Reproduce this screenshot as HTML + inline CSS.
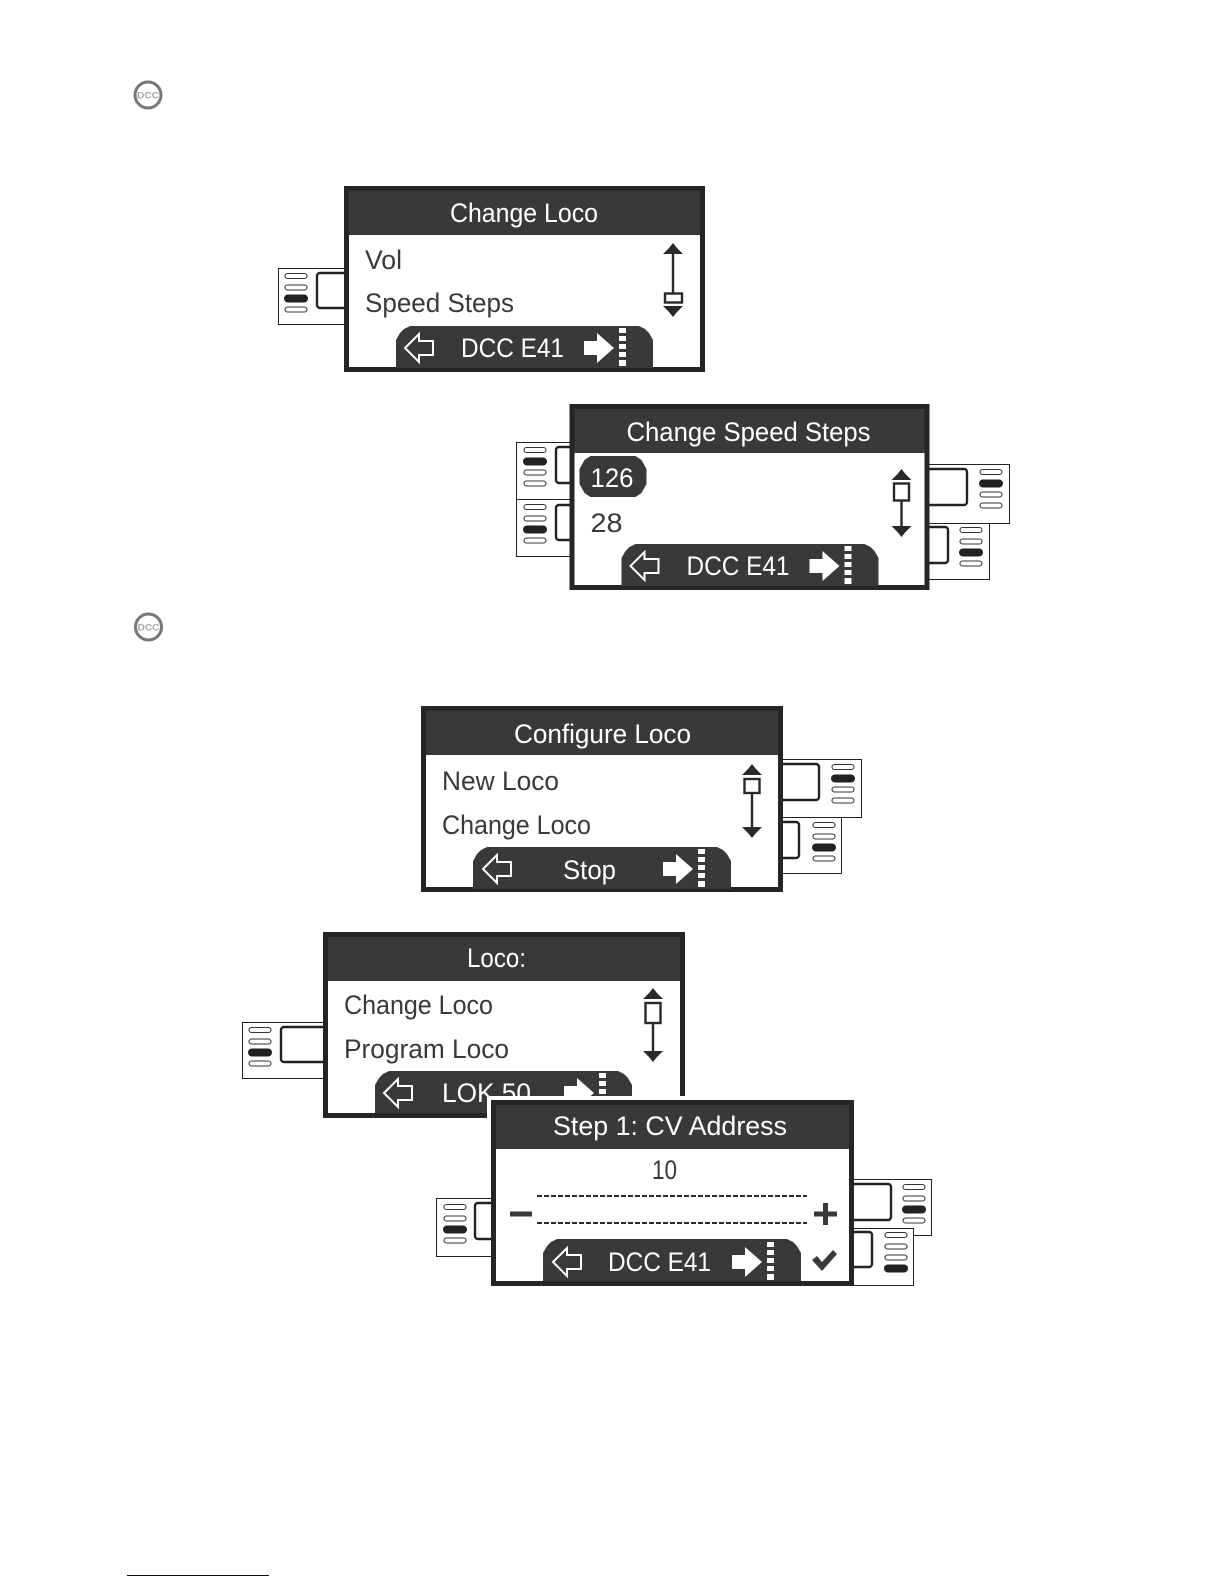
<!DOCTYPE html>
<html><head><meta charset="utf-8"><style>
html,body{margin:0;padding:0;background:#fff;width:1224px;height:1584px;overflow:hidden}
svg{display:block}
text{font-family:"Liberation Sans",sans-serif;font-size:27px}
.t{fill:#fff}
.b{fill:#3a3839}
.d{fill:#a8a8a8;font-size:9px;font-weight:bold}
.tab{fill:#fff;stroke:#222;stroke-width:1}
.in{fill:#fff;stroke:#222;stroke-width:2.4}
</style></head><body>
<svg width="1224" height="1584" viewBox="0 0 1224 1584" xmlns="http://www.w3.org/2000/svg">
<defs>
<g id="frame">
<rect x="2.5" y="2.5" width="356" height="181" fill="#fff" stroke="#262425" stroke-width="5"/>
<rect x="5" y="5" width="351" height="44" fill="#3a3839"/>
</g>
<g id="frameW">
<rect x="2.5" y="2.5" width="357" height="181" fill="#fff" stroke="#262425" stroke-width="5"/>
<rect x="5" y="5" width="352" height="44" fill="#3a3839"/>
</g>
<path id="bar" d="M52 181V153L56 146L60 142L66 139H295L301 142L305 146L309 153V181Z" fill="#3a3839"/>
<path id="barW" d="M52 181V153L56 146L60 142L66 139H296L302 142L306 146L310 153V181Z" fill="#3a3839"/>
<path id="la" d="M1 0L15 -14V-7H29V7H15V14Z" fill="none" stroke="#fff" stroke-width="2"/>
<path id="ra" d="M0 -7H13V-15L30 0L13 15V7H0Z" fill="#fff"/>
<g id="dots" fill="#fff">
<rect x="0" y="0" width="7" height="5"/><rect x="0" y="8" width="7" height="5"/><rect x="0" y="16" width="7" height="5"/><rect x="0" y="24" width="7" height="5"/><rect x="0" y="32" width="7" height="6"/>
</g>
<path id="up" d="M-10 11L-4 5L0 0L4 5L10 11Z" fill="#2a2829"/>
<path id="dn" d="M-10 0L10 0L4 6L0 11L-4 6Z" fill="#2a2829"/>
<rect id="po" x="1" y="-2.5" width="22" height="5" rx="2.5" fill="#fff" stroke="#333" stroke-width="1.1"/>
<rect id="pf" x="0" y="-4" width="24" height="8" rx="4" fill="#222"/>
<g id="p1"><use href="#po"/><use href="#pf" y="11.5"/><use href="#po" y="22.5"/><use href="#po" y="33.5"/></g>
<g id="p2"><use href="#po"/><use href="#po" y="11.5"/><use href="#pf" y="22.5"/><use href="#po" y="33.5"/></g>
<g id="p3"><use href="#po"/><use href="#po" y="11.5"/><use href="#po" y="22.5"/><use href="#pf" y="33.5"/></g>
</defs>

<!-- DCC badges -->
<circle cx="148" cy="95" r="13" fill="#fff" stroke="#777" stroke-width="3"/>
<text class="d" x="148" y="98.5" text-anchor="middle" textLength="22" lengthAdjust="spacingAndGlyphs">DCC</text>
<circle cx="148.500" cy="627" r="13" fill="#fff" stroke="#777" stroke-width="3"/>
<text class="d" x="148.500" y="630.500" text-anchor="middle" textLength="22" lengthAdjust="spacingAndGlyphs">DCC</text>

<!-- Screen 1 -->
<rect class="tab" x="278.500" y="268.500" width="80" height="56"/>
<rect class="in" x="317" y="273" width="50" height="35" rx="3"/>
<use href="#p2" x="284" y="276"/>
<g transform="translate(344,186)">
<use href="#frame"/>
<text class="t" x="106" y="36" textLength="148" lengthAdjust="spacingAndGlyphs">Change Loco</text>
<text class="b" x="21" y="83" textLength="37" lengthAdjust="spacingAndGlyphs">Vol</text>
<text class="b" x="21" y="126" textLength="149" lengthAdjust="spacingAndGlyphs">Speed Steps</text>
<use href="#up" x="329" y="57"/>
<rect x="327.800" y="68" width="2.400" height="40" fill="#2a2829"/>
<rect x="321" y="107.500" width="17" height="9" fill="#fff" stroke="#2a2829" stroke-width="2.400"/>
<use href="#dn" x="329" y="120"/>
<use href="#bar" y="1"/>
<use href="#la" x="60" y="162"/>
<text class="t" x="117" y="171" textLength="103" lengthAdjust="spacingAndGlyphs">DCC E41</text>
<use href="#ra" x="240" y="162"/>
<use href="#dots" x="275" y="142"/>
</g>

<!-- Screen 2 -->
<rect class="tab" x="516.500" y="442.500" width="80" height="57"/>
<rect class="in" x="556" y="447" width="50" height="36" rx="3"/>
<use href="#p1" x="523" y="450"/>
<rect class="tab" x="516.500" y="499.500" width="80" height="57"/>
<rect class="in" x="556" y="505" width="50" height="35" rx="3"/>
<use href="#p2" x="523" y="507"/>
<rect class="tab" x="900.500" y="522.500" width="89" height="57"/>
<rect class="in" x="900" y="527" width="48" height="36" rx="3"/>
<use href="#p2" x="959" y="530"/>
<rect class="tab" x="900.500" y="464.500" width="109" height="59"/>
<rect class="in" x="900" y="469" width="67" height="36" rx="3"/>
<use href="#p1" x="979" y="472"/>
<g transform="translate(569.500,404)">
<rect x="2.500" y="2.500" width="355" height="181" fill="#fff" stroke="#262425" stroke-width="5"/>
<rect x="5" y="5" width="350" height="44" fill="#3a3839"/>
<text class="t" x="57" y="37" textLength="244" lengthAdjust="spacingAndGlyphs">Change Speed Steps</text>
<path d="M21 52H66L72 56L77 65V80L72 89L66 93H21L15 89L10 80V65L15 56Z" fill="#3a3839"/>
<text class="t" x="21" y="83" textLength="43" lengthAdjust="spacingAndGlyphs">126</text>
<text class="b" x="21" y="128" textLength="32" lengthAdjust="spacingAndGlyphs">28</text>
<use href="#up" x="332" y="65"/>
<rect x="330.800" y="96" width="2.400" height="27" fill="#2a2829"/>
<rect x="324.500" y="79.500" width="15" height="17" fill="#fff" stroke="#2a2829" stroke-width="2.400"/>
<use href="#dn" x="332" y="122"/>
<use href="#bar" y="1"/>
<use href="#la" x="60" y="162"/>
<text class="t" x="117" y="171" textLength="103" lengthAdjust="spacingAndGlyphs">DCC E41</text>
<use href="#ra" x="240" y="162"/>
<use href="#dots" x="275" y="142"/>
</g>

<!-- Screen 3 -->
<rect class="tab" x="760.500" y="817.500" width="81" height="56"/>
<rect class="in" x="760" y="822" width="39" height="36" rx="3"/>
<use href="#p2" x="812" y="825"/>
<rect class="tab" x="760.500" y="759.500" width="101" height="58"/>
<rect class="in" x="760" y="764" width="59" height="36" rx="3"/>
<use href="#p1" x="831" y="767"/>
<g transform="translate(421,706)">
<use href="#frameW"/>
<text class="t" x="93" y="37" textLength="177" lengthAdjust="spacingAndGlyphs">Configure Loco</text>
<text class="b" x="21" y="84" textLength="117" lengthAdjust="spacingAndGlyphs">New Loco</text>
<text class="b" x="21" y="128" textLength="149" lengthAdjust="spacingAndGlyphs">Change Loco</text>
<use href="#up" x="331" y="58"/>
<rect x="329.800" y="86" width="2.400" height="36" fill="#2a2829"/>
<rect x="323.500" y="73" width="15" height="14" fill="#fff" stroke="#2a2829" stroke-width="2.400"/>
<use href="#dn" x="331" y="121"/>
<use href="#barW" y="2"/>
<use href="#la" x="61" y="163"/>
<text class="t" x="142" y="173" textLength="53" lengthAdjust="spacingAndGlyphs">Stop</text>
<use href="#ra" x="242" y="163"/>
<use href="#dots" x="277" y="143"/>
</g>

<!-- Screen 4 -->
<rect class="tab" x="242.500" y="1022.500" width="90" height="56"/>
<rect class="in" x="281" y="1027" width="60" height="35" rx="3"/>
<use href="#p2" x="248" y="1030"/>
<g transform="translate(323,932)">
<use href="#frameW"/>
<text class="t" x="144" y="35" textLength="59" lengthAdjust="spacingAndGlyphs">Loco:</text>
<text class="b" x="21" y="82" textLength="149" lengthAdjust="spacingAndGlyphs">Change Loco</text>
<text class="b" x="21" y="126" textLength="165" lengthAdjust="spacingAndGlyphs">Program Loco</text>
<use href="#up" x="330" y="56"/>
<rect x="328.800" y="90" width="2.400" height="30" fill="#2a2829"/>
<rect x="322.500" y="71" width="15" height="20" fill="#fff" stroke="#2a2829" stroke-width="2.400"/>
<use href="#dn" x="330" y="119"/>
<use href="#bar"/>
<use href="#la" x="60" y="161"/>
<text class="t" x="119" y="170" textLength="89" lengthAdjust="spacingAndGlyphs">LOK 50</text>
<use href="#ra" x="241" y="161"/>
<use href="#dots" x="276" y="141"/>
</g>

<!-- Screen 5 -->
<rect class="tab" x="436.500" y="1198.500" width="80" height="58"/>
<rect class="in" x="475" y="1203" width="50" height="36" rx="3"/>
<use href="#p2" x="443" y="1207"/>
<rect class="tab" x="830.500" y="1179.500" width="101" height="56"/>
<rect class="in" x="830" y="1184" width="61" height="36" rx="3"/>
<use href="#p2" x="902" y="1187"/>
<rect class="tab" x="838.500" y="1228.500" width="75" height="57"/>
<rect class="in" x="830" y="1232" width="42" height="35" rx="3"/>
<use href="#p3" x="884" y="1235"/>
<rect x="487" y="1096" width="199" height="30" fill="#fff"/>
<g transform="translate(491,1100)">
<rect x="2.500" y="2.500" width="358" height="181" fill="#fff" stroke="#262425" stroke-width="5"/>
<rect x="5" y="5" width="353" height="44" fill="#3a3839"/>
<text class="t" x="62" y="35" textLength="234" lengthAdjust="spacingAndGlyphs">Step 1: CV Address</text>
<text class="b" x="161" y="79" textLength="25" lengthAdjust="spacingAndGlyphs">10</text>
<line x1="46" y1="96" x2="316" y2="96" stroke="#2a2829" stroke-width="2" stroke-dasharray="5 2"/>
<line x1="46" y1="123" x2="316" y2="123" stroke="#2a2829" stroke-width="2" stroke-dasharray="5 2"/>
<rect x="19" y="111.500" width="22" height="5" fill="#3a3839"/>
<rect x="323" y="111.500" width="23" height="5" fill="#3a3839"/>
<rect x="332" y="103" width="5" height="22" fill="#3a3839"/>
<use href="#barW"/>
<use href="#la" x="61" y="162"/>
<text class="t" x="117" y="171" textLength="103" lengthAdjust="spacingAndGlyphs">DCC E41</text>
<use href="#ra" x="241" y="162"/>
<use href="#dots" x="276" y="142"/>
<path d="M321 160L326 156L331 162L342 150L346 154L331 171Z" fill="#3a3839"/>
</g>

<!-- footer rule -->
<rect x="127" y="1575" width="142" height="1" fill="#00008b"/>
</svg>
</body></html>
